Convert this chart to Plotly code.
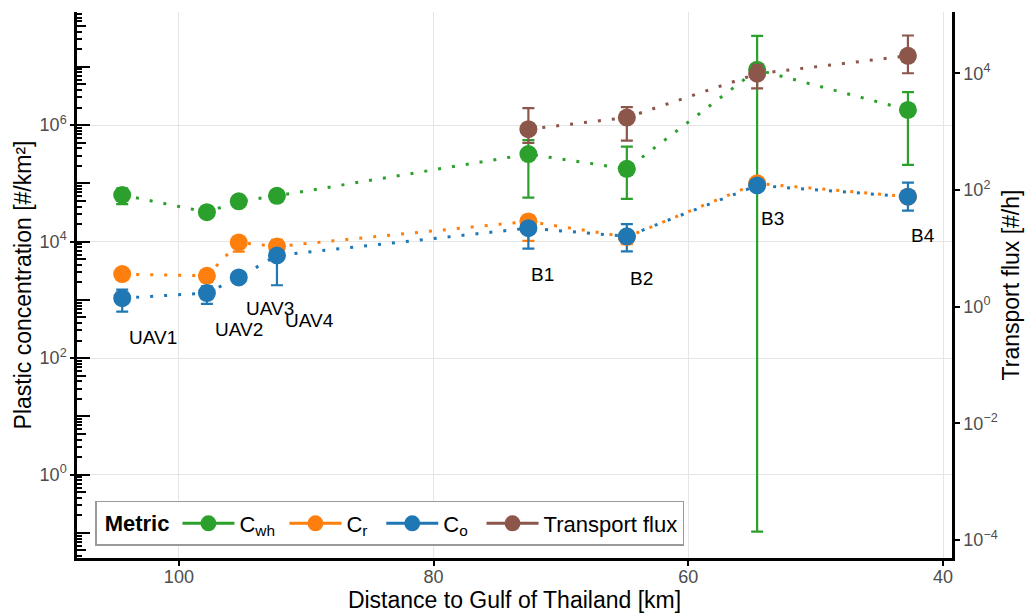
import numpy as np
import plotly.graph_objects as go

# ---------------- data ----------------
sites = ["UAV1", "UAV2", "UAV3", "UAV4", "B1", "B2", "B3", "B4"]
distance_km = [104.45, 97.8, 95.3, 92.3, 72.56, 64.83, 54.6, 42.76]

c_wh = [6.3e4, 3.2e4, 4.9e4, 6.1e4, 3.17e5, 1.77e5, 8.9e6, 1.82e6]
c_wh_hi = [8.2e4, 3.6e4, 5.4e4, 6.8e4, 5.5e5, 4.27e5, 3.39e7, 3.66e6]
c_wh_lo = [4.4e4, 2.8e4, 4.4e4, 5.4e4, 5.7e4, 5.4e4, 0.105, 2.08e5]

c_r = [2770, 2580, 9660, 8250, 2.22e4, 1.2e4, 1.0e5, 5.9e4]
c_r_hi = [3100, 2900, 1.2e4, 1.07e4, 2.8e4, 1.5e4, 1.15e5, 7.0e4]
c_r_lo = [2450, 2250, 6700, 6500, 1.03e4, 9.0e3, 8.5e4, 4.8e4]

c_o = [1070, 1310, 2430, 5770, 1.70e4, 1.23e4, 9.2e4, 5.9e4]
c_o_hi = [1500, 1700, 2700, 9700, 2.4e4, 2.0e4, 1.05e5, 1.03e5]
c_o_lo = [630, 850, 2150, 1780, 7550, 6800, 8.0e4, 3.4e4]

flux_sites = ["B1", "B2", "B3", "B4"]
flux_km = [72.56, 64.83, 54.6, 42.76]
flux = [1100, 1740, 9800, 1.99e4]
flux_hi = [2520, 2620, 1.4e4, 4.44e4]
flux_lo = [640, 700, 5500, 1.0e4]

left_tick_vals = [1e0, 1e2, 1e4, 1e6]
left_tick_text = ["10<sup>0</sup>", "10<sup>2</sup>", "10<sup>4</sup>", "10<sup>6</sup>"]
right_tick_vals = [1e-4, 1e-2, 1e0, 1e2, 1e4]
right_tick_text = ["10<sup>−4</sup>", "10<sup>−2</sup>", "10<sup>0</sup>", "10<sup>2</sup>", "10<sup>4</sup>"]
x_tick_vals = [100, 80, 60, 40]

# ---------------- style ----------------
GREEN, ORANGE, BLUE, BROWN = "#2ca02c", "#ff7f0e", "#1f77b4", "#8c564b"
FONT = "Liberation Sans, Arial, sans-serif"
TICKGREY = "#4d4d4d"
MS = 18
# label offsets (px) relative to C_o points
label_dx = [30.5, 32, 31, 33, 14, 15, 15, 15]
label_dy = [-39, -36, -31, -65, -46, -42, -33, -39]

LEFT_RANGE = [-1.43, 7.94]
RIGHT_RANGE = [-4.31, 5.05]
X_RANGE = [108.0, 39.3]

fig = go.Figure()

def err_trace(x, y, hi, lo, color, yaxis="y"):
    y = np.array(y, float)
    return go.Scatter(
        x=x, y=y, mode="markers", yaxis=yaxis,
        marker=dict(size=1, color="rgba(0,0,0,0)"),
        error_y=dict(type="data", symmetric=False,
                     array=np.array(hi) - y, arrayminus=y - np.array(lo),
                     color=color, thickness=2.2, width=6),
        showlegend=False, hoverinfo="skip")

def main_trace(x, y, color, yaxis="y"):
    return go.Scatter(
        x=x, y=y, mode="lines+markers", yaxis=yaxis,
        line=dict(color=color, width=3, dash="3px,11px"),
        marker=dict(size=MS, color=color),
        showlegend=False)

# error bars first (under the points)
fig.add_trace(err_trace(distance_km, c_wh, c_wh_hi, c_wh_lo, GREEN))
fig.add_trace(err_trace(distance_km, c_r, c_r_hi, c_r_lo, ORANGE))
fig.add_trace(err_trace(distance_km, c_o, c_o_hi, c_o_lo, BLUE))
fig.add_trace(main_trace(distance_km, c_wh, GREEN))
fig.add_trace(main_trace(distance_km, c_r, ORANGE))
fig.add_trace(main_trace(distance_km, c_o, BLUE))
fig.add_trace(err_trace(flux_km, flux, flux_hi, flux_lo, BROWN, "y2"))
fig.add_trace(main_trace(flux_km, flux, BROWN, "y2"))

# legend-only entries
for name, col in [("C<sub>wh</sub>\u2009", GREEN), ("C<sub>r</sub>\u2009\u2009", ORANGE),
                  ("C<sub>o</sub>\u2009\u2009", BLUE), ("Transport flux", BROWN)]:
    fig.add_trace(go.Scatter(x=[None], y=[None], mode="lines+markers", name=name,
                             line=dict(color=col, width=3),
                             marker=dict(size=MS, color=col)))

# dummy traces for log-tick overlay axes
for ax in ["y3", "y4", "y5"]:
    fig.add_trace(go.Scatter(x=[None], y=[None], yaxis=ax, showlegend=False, hoverinfo="skip"))

# point labels
for i, s in enumerate(sites):
    fig.add_annotation(x=distance_km[i], y=np.log10(c_o[i]), xref="x", yref="y",
                       text=s, showarrow=False, xshift=label_dx[i], yshift=label_dy[i],
                       font=dict(family=FONT, size=19, color="black"))

decades = [10.0 ** k for k in range(-2, 9)]
fives = [5 * 10.0 ** k for k in range(-2, 8)]
others = [m * 10.0 ** k for k in range(-2, 8) for m in (2, 3, 4, 6, 7, 8, 9)]

def tick_axis(vals, length):
    return dict(type="log", range=LEFT_RANGE, overlaying="y", anchor="x", side="left",
                tickmode="array", tickvals=vals, ticks="inside", ticklen=length,
                tickwidth=1.5, tickcolor="black", showticklabels=False,
                showgrid=False, showline=False, zeroline=False, automargin=False)

fig.update_layout(
    width=1027, height=614,
    margin=dict(l=77, r=75, t=12, b=56, autoexpand=False),
    paper_bgcolor="white", plot_bgcolor="white",
    font=dict(family=FONT, color="black"),
    xaxis=dict(range=X_RANGE, tickmode="array", tickvals=x_tick_vals,
               showgrid=True, gridcolor="#e5e5e5", gridwidth=1.3,
               showline=True, linecolor="black", linewidth=2.5,
               ticks="outside", ticklen=5, tickwidth=2, tickcolor="black",
               ticklabelstandoff=-4,
               tickfont=dict(size=18, color=TICKGREY, family=FONT),
               title=dict(text="Distance to Gulf of Thailand [km]",
                          font=dict(size=23, family=FONT), standoff=4),
               zeroline=False, automargin=False),
    yaxis=dict(type="log", range=LEFT_RANGE, tickmode="array",
               tickvals=left_tick_vals, ticktext=left_tick_text,
               showgrid=True, gridcolor="#e5e5e5", gridwidth=1.3,
               showline=True, linecolor="black", linewidth=2.5,
               ticks="outside", ticklen=4, tickwidth=2, tickcolor="black",
               tickfont=dict(size=18, color=TICKGREY, family=FONT),
               title=dict(text="Plastic concentration [#/km²]",
                          font=dict(size=23, family=FONT), standoff=2),
               zeroline=False, automargin=False),
    yaxis2=dict(type="log", range=RIGHT_RANGE, overlaying="y", side="right", anchor="x",
                tickmode="array", tickvals=right_tick_vals, ticktext=right_tick_text,
                showgrid=False, showline=True, linecolor="black", linewidth=2.5,
                ticks="outside", ticklen=5, tickwidth=2, tickcolor="black",
                tickfont=dict(size=18, color=TICKGREY, family=FONT),
                title=dict(text="Transport flux [#/h]", font=dict(size=23, family=FONT),
                           standoff=7),
                zeroline=False, automargin=False),
    yaxis3=tick_axis(decades, 13),
    yaxis4=tick_axis(fives, 9),
    yaxis5=tick_axis(others, 5),
    legend=dict(orientation="h", x=0.0206, y=0.022, xanchor="left", yanchor="bottom",
                bgcolor="white", bordercolor="#9a9a9a", borderwidth=1.5,
                font=dict(size=22, family=FONT),
                title=dict(text=" <b>Metric</b>", side="left", font=dict(size=22, family=FONT)),
                itemsizing="trace", itemwidth=52, tracegroupgap=0),
    showlegend=True,
)

fig.write_html("out.html", config={"displayModeBar": False},
               post_script="document.body.style.margin='0';document.body.style.overflow='hidden';")
